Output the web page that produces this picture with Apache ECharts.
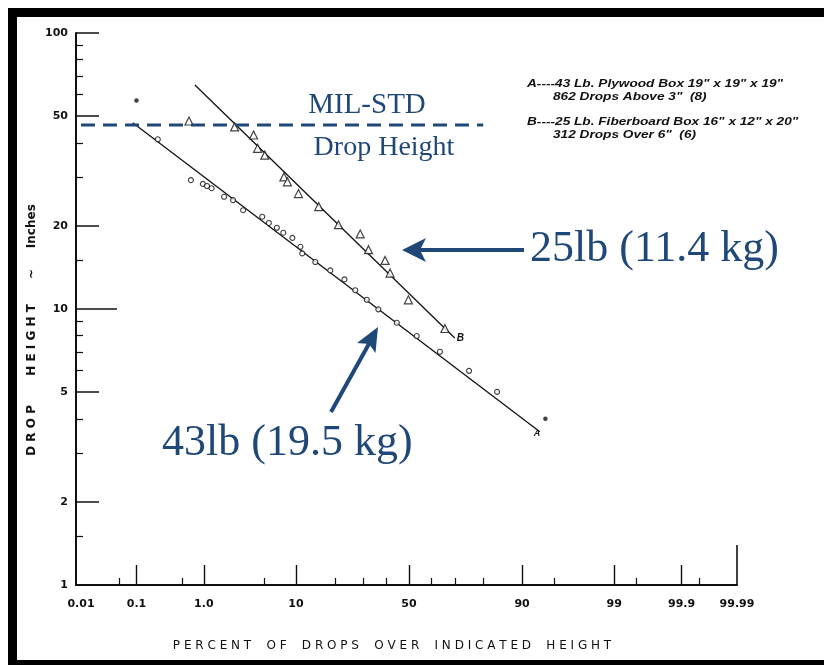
<!DOCTYPE html>
<html>
<head>
<meta charset="utf-8">
<script src="https://cdn.jsdelivr.net/npm/echarts@6/dist/echarts.min.js"></script>
<style>
  html, body { margin: 0; padding: 0; background: #fff; }
  #chart { width: 824px; height: 665px; }
</style>
</head>
<body>
<div id="chart"></div>
<script>
// ---- Drop-height survey data (percent of drops exceeding height, height in inches) ----

// A: 43 Lb. plywood box, open circles
const plywoodPct    = [0.22, 0.67, 0.97, 1.1, 1.26, 1.8, 2.3, 3.0, 4.8, 5.6, 6.7, 7.7, 9.3, 10.9, 11.3, 14.4, 18.6, 23.2, 27.1, 31.6, 36.4, 44.5, 53.5, 63.7, 75.2, 84.1];
const plywoodHeight = [41.2, 29.3, 28.4, 27.9, 27.4, 25.5, 24.8, 22.8, 21.6, 20.5, 19.7, 18.9, 18.1, 16.8, 15.9, 14.8, 13.8, 12.8, 11.7, 10.8, 9.97, 8.92, 7.98, 7.0, 5.97, 5.01];
// A: the two extreme drops, solid dots
const plywoodExtremePct    = [0.1, 93.9];
const plywoodExtremeHeight = [57, 4.0];
// A: fitted line end points
const plywoodFitPct    = [0.0865, 93.1];
const plywoodFitHeight = [47.3, 3.59];

// B: 25 Lb. fiberboard box, open triangles
const fiberPct    = [0.63, 2.4, 3.9, 4.3, 5.1, 7.8, 8.4, 10.5, 15.3, 21.2, 29.0, 32.3, 39.3, 41.5, 49.7, 65.8];
const fiberHeight = [48.0, 45.7, 42.7, 38.2, 36.1, 30.1, 28.9, 26.2, 23.5, 20.2, 18.7, 16.4, 15.0, 13.5, 10.8, 8.5];
// B: fitted line end points
const fiberFitPct    = [0.76, 69.8];
const fiberFitHeight = [64.8, 7.85];

// MIL-STD drop height reference
const milStdHeight = 46.4;
const milStdPct    = [0.01, 80];

// Axis ticks
const xLabelPct   = [0.01, 0.1, 1, 10, 50, 90, 99, 99.9, 99.99];
const xLabelText  = ['0.01', '0.1', '1.0', '10', '50', '90', '99', '99.9', '99.99'];
const xMajorPct   = [0.1, 1, 10, 50, 90, 99, 99.9];
const xMinorPct   = [0.05, 0.5, 5, 20, 30, 40, 60, 70, 80, 95, 99.5, 99.95];
const xEndPct     = [99.99];
const yLabelVals  = [1, 2, 5, 10, 20, 50, 100];
const yMajorVals  = [2, 5, 20, 50, 100];
const yLongVals   = [10];
const yMinorVals  = [1.5, 3, 4, 6, 7, 8, 9, 15, 30, 40, 60, 70, 80, 90];

// ---- probability-paper transform (inverse normal CDF, Acklam) ----
function probit(p) {
  const a = [-3.969683028665376e+01, 2.209460984245205e+02, -2.759285104469687e+02, 1.383577518672690e+02, -3.066479806614716e+01, 2.506628277459239e+00];
  const b = [-5.447609879822406e+01, 1.615858368580409e+02, -1.556989798598866e+02, 6.680131188771972e+01, -1.328068155288572e+01];
  const c = [-7.784894002430293e-03, -3.223964580411365e-01, -2.400758277161838e+00, -2.549732539343734e+00, 4.374664141464968e+00, 2.938163982698783e+00];
  const d = [7.784695709041462e-03, 3.224671290700398e-01, 2.445134137142996e+00, 3.754408661907416e+00];
  const pl = 0.02425, ph = 1 - pl;
  let q, r;
  if (p < pl) {
    q = Math.sqrt(-2 * Math.log(p));
    return (((((c[0]*q+c[1])*q+c[2])*q+c[3])*q+c[4])*q+c[5]) / ((((d[0]*q+d[1])*q+d[2])*q+d[3])*q+1);
  }
  if (p <= ph) {
    q = p - 0.5; r = q * q;
    return (((((a[0]*r+a[1])*r+a[2])*r+a[3])*r+a[4])*r+a[5])*q / (((((b[0]*r+b[1])*r+b[2])*r+b[3])*r+b[4])*r+1);
  }
  q = Math.sqrt(-2 * Math.log(1 - p));
  return -(((((c[0]*q+c[1])*q+c[2])*q+c[3])*q+c[4])*q+c[5]) / ((((d[0]*q+d[1])*q+d[2])*q+d[3])*q+1);
}
const px = pct => probit(pct / 100);
const ly = h => Math.log10(h);
const pairs = (xs, ys) => xs.map((v, i) => [px(v), ly(ys[i])]);

const X_MAX = px(99.99);
const X_MIN = -3.776;

const NAVY = '#1f4878';
const INK = '#111';
const tickFont = { color: INK, fontFamily: 'DejaVu Sans', fontWeight: 'bold', fontSize: 11 };

function hiddenAxis(extra) {
  return Object.assign({ axisLine: { show: false, onZero: false }, axisLabel: { show: false }, splitLine: { show: false } }, extra);
}

const chart = echarts.init(document.getElementById('chart'));
chart.setOption({
  animation: false,
  backgroundColor: '#fff',
  grid: { left: 76, right: 87, top: 33, bottom: 80 },
  xAxis: [
    {
      type: 'value', min: X_MIN, max: X_MAX, position: 'bottom',
      axisLine: { show: true, onZero: false, lineStyle: { color: INK, width: 2 } },
      axisTick: { show: true, inside: true, length: 20, customValues: xMajorPct.map(px), lineStyle: { color: INK, width: 1.4 } },
      axisLabel: {
        customValues: xLabelPct.map(px), margin: 14, ...tickFont,
        formatter: v => {
          const i = xLabelPct.findIndex(p => Math.abs(px(p) - v) < 1e-6);
          return i >= 0 ? xLabelText[i] : '';
        }
      },
      splitLine: { show: false }
    },
    hiddenAxis({
      type: 'value', min: X_MIN, max: X_MAX, position: 'bottom',
      axisTick: { show: true, inside: true, length: 7, customValues: xMinorPct.map(px), lineStyle: { color: INK, width: 1.2 } }
    }),
    hiddenAxis({
      type: 'value', min: X_MIN, max: X_MAX, position: 'bottom',
      axisTick: { show: true, inside: true, length: 40, customValues: xEndPct.map(px), lineStyle: { color: INK, width: 1.6 } }
    })
  ],
  yAxis: [
    {
      type: 'value', min: 0, max: 2, position: 'left',
      axisLine: { show: true, onZero: false, lineStyle: { color: INK, width: 2 } },
      axisTick: { show: true, inside: true, length: 23, customValues: yMajorVals.map(ly), lineStyle: { color: INK, width: 1.5 } },
      axisLabel: {
        customValues: yLabelVals.map(ly), margin: 8, ...tickFont,
        formatter: v => String(Math.round(Math.pow(10, v)))
      },
      splitLine: { show: false }
    },
    hiddenAxis({
      type: 'value', min: 0, max: 2, position: 'left',
      axisTick: { show: true, inside: true, length: 41, customValues: yLongVals.map(ly), lineStyle: { color: INK, width: 1.5 } }
    }),
    hiddenAxis({
      type: 'value', min: 0, max: 2, position: 'left',
      axisTick: { show: true, inside: true, length: 7, customValues: yMinorVals.map(ly), lineStyle: { color: INK, width: 1.2 } }
    })
  ],
  series: [
    {
      name: 'A fit', type: 'line', data: pairs(plywoodFitPct, plywoodFitHeight),
      showSymbol: false, lineStyle: { color: INK, width: 1.3 },
      endLabel: { show: true, formatter: 'A', color: INK, fontStyle: 'italic', fontWeight: 'bold', fontSize: 9, distance: 0, offset: [-6, 2] },
      z: 2
    },
    {
      name: 'B fit', type: 'line', data: pairs(fiberFitPct, fiberFitHeight),
      showSymbol: false, lineStyle: { color: INK, width: 1.3 },
      endLabel: { show: true, formatter: 'B', color: INK, fontStyle: 'italic', fontWeight: 'bold', fontSize: 10, distance: 2 },
      z: 2
    },
    {
      name: 'A', type: 'scatter', data: pairs(plywoodPct, plywoodHeight),
      symbol: 'circle', symbolSize: 5,
      itemStyle: { color: '#fff', borderColor: INK, borderWidth: 1.1 }, z: 3
    },
    {
      name: 'A extremes', type: 'scatter', data: pairs(plywoodExtremePct, plywoodExtremeHeight),
      symbol: 'circle', symbolSize: 4.5,
      itemStyle: { color: INK }, z: 3
    },
    {
      name: 'B', type: 'scatter', data: pairs(fiberPct, fiberHeight),
      symbol: 'triangle', symbolSize: 8,
      itemStyle: { color: '#fff', borderColor: INK, borderWidth: 1.2 }, z: 3
    },
    {
      name: 'MIL-STD', type: 'line',
      data: milStdPct.map(p => [Math.max(px(p), X_MIN), ly(milStdHeight)]),
      showSymbol: false, lineStyle: { color: NAVY, width: 3, type: [14, 8] }, z: 4
    }
  ],
  graphic: [
    // page frame
    { type: 'rect', shape: { x: 8, y: 8, width: 816, height: 9 }, style: { fill: '#000' }, silent: true },
    { type: 'rect', shape: { x: 8, y: 8, width: 9, height: 657 }, style: { fill: '#000' }, silent: true },
    { type: 'rect', shape: { x: 8, y: 660, width: 816, height: 5 }, style: { fill: '#000' }, silent: true },
    // axis titles
    { type: 'text', x: 392, y: 646, style: { text: 'P E R C E N T    O F    D R O P S    O V E R    I N D I C A T E D    H E I G H T', fill: INK, font: '12px "DejaVu Sans"', textAlign: 'center', textVerticalAlign: 'middle' } },
    { type: 'text', x: 32, y: 330, rotation: Math.PI / 2, style: { text: 'D R O P       H E I G H T      ~     Inches', fill: INK, font: 'bold 12px "DejaVu Sans"', textAlign: 'center', textVerticalAlign: 'middle' } },
    // legend block
    { type: 'text', x: 527, y: 84, scaleX: 1.3, style: { text: 'A----43 Lb. Plywood Box 19" x 19" x 19"', fill: INK, font: 'italic bold 10.5px "Liberation Sans"', textVerticalAlign: 'middle' } },
    { type: 'text', x: 553, y: 97, scaleX: 1.3, style: { text: '862 Drops Above 3"  (8)', fill: INK, font: 'italic bold 10.5px "Liberation Sans"', textVerticalAlign: 'middle' } },
    { type: 'text', x: 527, y: 122, scaleX: 1.3, style: { text: 'B----25 Lb. Fiberboard Box 16" x 12" x 20"', fill: INK, font: 'italic bold 10.5px "Liberation Sans"', textVerticalAlign: 'middle' } },
    { type: 'text', x: 553, y: 135, scaleX: 1.3, style: { text: '312 Drops Over 6"  (6)', fill: INK, font: 'italic bold 10.5px "Liberation Sans"', textVerticalAlign: 'middle' } },
    // annotations
    { type: 'text', x: 367, y: 105, style: { text: 'MIL-STD', fill: NAVY, font: '29px "Liberation Serif"', textAlign: 'center', textVerticalAlign: 'middle' } },
    { type: 'text', x: 384, y: 148, style: { text: 'Drop Height', fill: NAVY, font: '28px "Liberation Serif"', textAlign: 'center', textVerticalAlign: 'middle' } },
    { type: 'text', x: 530, y: 249, style: { text: '25lb (11.4 kg)', fill: NAVY, font: '44px "Liberation Serif"', textVerticalAlign: 'middle' } },
    { type: 'text', x: 162, y: 443, style: { text: '43lb (19.5 kg)', fill: NAVY, font: '44px "Liberation Serif"', textVerticalAlign: 'middle' } },
    // arrow to B line
    { type: 'line', shape: { x1: 524, y1: 250, x2: 418, y2: 250 }, style: { stroke: NAVY, lineWidth: 4 } },
    { type: 'polygon', shape: { points: [[402, 250], [426, 238], [420, 250], [426, 262]] }, style: { fill: NAVY } },
    // arrow to A line
    { type: 'line', shape: { x1: 331, y1: 412, x2: 370, y2: 342 }, style: { stroke: NAVY, lineWidth: 4 } },
    { type: 'polygon', shape: { points: [[378, 327], [375.5, 353], [369, 344], [357, 343]] }, style: { fill: NAVY } }
  ]
});
</script>
</body>
</html>
